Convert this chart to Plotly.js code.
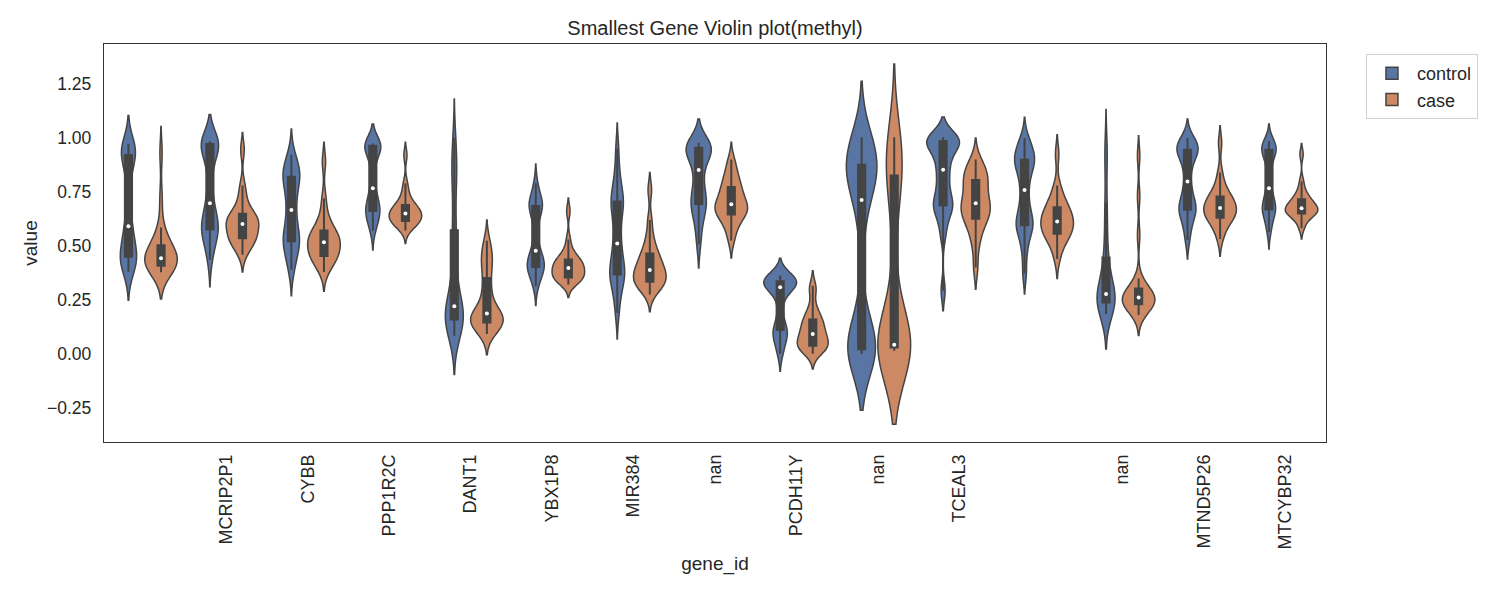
<!DOCTYPE html>
<html>
<head>
<meta charset="utf-8">
<script src="https://cdn.plot.ly/plotly-3.0.1.min.js"></script>
<style>html,body{margin:0;padding:0;background:#fff;}#chart{width:1500px;height:600px;}</style>
</head>
<body>
<div id="chart"></div>
<script>
// ---- data ----
const geneLabels = ["", "MCRIP2P1", "CYBB", "PPP1R2C", "DANT1", "YBX1P8", "MIR384", "nan",
  "PCDH11Y", "nan", "TCEAL3", "", "nan", "MTND5P26", "MTCYBP32"];

const controlValues = [
  [0.381,0.40,0.42,0.435,0.445,0.452,0.47,0.50,0.53,0.56,0.591,0.65,0.73,0.82,0.88,0.918,0.93,0.94,0.95,0.96,0.972],
  [0.435,0.49,0.53,0.555,0.57,0.579,0.59,0.61,0.635,0.665,0.698,0.76,0.84,0.90,0.94,0.972,0.975,0.978,0.98,0.982,0.985],
  [0.39,0.43,0.47,0.50,0.515,0.525,0.54,0.56,0.59,0.63,0.667,0.70,0.74,0.78,0.80,0.818,0.83,0.845,0.86,0.89,0.922],
  [0.571,0.60,0.625,0.645,0.655,0.664,0.675,0.69,0.71,0.735,0.767,0.82,0.88,0.92,0.945,0.964,0.966,0.968,0.97,0.972,0.975],
  [0.085,0.11,0.13,0.145,0.155,0.162,0.175,0.19,0.20,0.21,0.221,0.26,0.32,0.40,0.47,0.548,0.65,0.78,0.85,0.90,1.0],
  [0.314,0.35,0.375,0.39,0.398,0.404,0.415,0.43,0.445,0.46,0.478,0.53,0.59,0.64,0.665,0.684,0.69,0.70,0.71,0.74,0.79],
  [0.19,0.26,0.31,0.345,0.36,0.370,0.385,0.41,0.44,0.475,0.512,0.56,0.61,0.66,0.685,0.702,0.72,0.75,0.79,0.85,0.95],
  [0.508,0.58,0.63,0.665,0.685,0.698,0.715,0.74,0.77,0.81,0.852,0.89,0.915,0.93,0.945,0.954,0.958,0.962,0.966,0.972,0.978],
  [0.0,0.04,0.07,0.09,0.105,0.113,0.14,0.19,0.25,0.29,0.309,0.315,0.32,0.325,0.33,0.336,0.34,0.345,0.35,0.356,0.363],
  [0.0,0.005,0.01,0.015,0.02,0.023,0.04,0.08,0.20,0.50,0.713,0.76,0.80,0.83,0.85,0.872,0.89,0.91,0.94,0.97,1.003],
  [0.294,0.55,0.62,0.66,0.68,0.690,0.71,0.74,0.78,0.82,0.853,0.89,0.92,0.95,0.97,0.985,0.988,0.991,0.995,0.999,1.003],
  [0.374,0.47,0.53,0.57,0.587,0.599,0.615,0.64,0.67,0.71,0.759,0.80,0.84,0.865,0.88,0.895,0.91,0.925,0.945,0.97,1.0],
  [0.185,0.205,0.22,0.23,0.235,0.239,0.248,0.256,0.265,0.272,0.278,0.29,0.31,0.35,0.39,0.429,0.50,0.60,0.70,0.87,0.97],
  [0.528,0.58,0.62,0.645,0.66,0.671,0.685,0.70,0.725,0.76,0.799,0.85,0.89,0.915,0.93,0.944,0.952,0.96,0.97,0.985,1.0],
  [0.566,0.60,0.635,0.655,0.665,0.671,0.68,0.695,0.715,0.74,0.767,0.82,0.87,0.905,0.925,0.944,0.95,0.955,0.962,0.972,0.985]
];

const caseValues = [
  [0.378,0.39,0.40,0.403,0.406,0.409,0.42,0.43,0.435,0.44,0.443,0.455,0.465,0.475,0.49,0.498,0.52,0.55,0.586,0.72,0.93],
  [0.46,0.49,0.51,0.525,0.532,0.537,0.55,0.565,0.58,0.592,0.602,0.61,0.618,0.627,0.636,0.645,0.66,0.69,0.73,0.78,0.946],
  [0.38,0.41,0.43,0.445,0.45,0.455,0.47,0.485,0.50,0.51,0.517,0.525,0.535,0.548,0.558,0.568,0.585,0.61,0.65,0.72,0.89],
  [0.572,0.59,0.60,0.608,0.613,0.617,0.625,0.633,0.64,0.646,0.651,0.658,0.665,0.672,0.68,0.687,0.70,0.72,0.75,0.79,0.92],
  [0.093,0.11,0.125,0.135,0.142,0.147,0.155,0.165,0.172,0.18,0.188,0.20,0.22,0.26,0.30,0.339,0.39,0.42,0.45,0.48,0.524],
  [0.322,0.335,0.343,0.348,0.352,0.355,0.365,0.375,0.385,0.392,0.398,0.405,0.413,0.42,0.428,0.435,0.445,0.46,0.48,0.53,0.662],
  [0.276,0.30,0.315,0.325,0.331,0.336,0.348,0.36,0.372,0.381,0.389,0.40,0.415,0.43,0.445,0.460,0.48,0.51,0.55,0.62,0.76],
  [0.525,0.57,0.60,0.625,0.64,0.648,0.658,0.668,0.677,0.685,0.693,0.705,0.72,0.737,0.753,0.769,0.785,0.805,0.83,0.86,0.90],
  [0.001,0.015,0.025,0.032,0.036,0.039,0.05,0.062,0.073,0.083,0.093,0.105,0.118,0.132,0.145,0.157,0.17,0.19,0.22,0.29,0.316],
  [0.015,0.02,0.024,0.027,0.029,0.031,0.034,0.036,0.038,0.041,0.043,0.06,0.15,0.45,0.70,0.818,0.85,0.88,0.92,0.96,1.003],
  [0.40,0.50,0.55,0.59,0.615,0.630,0.645,0.66,0.675,0.687,0.698,0.715,0.735,0.76,0.785,0.802,0.815,0.83,0.85,0.87,0.90],
  [0.44,0.49,0.52,0.54,0.552,0.559,0.572,0.585,0.597,0.606,0.614,0.626,0.638,0.65,0.663,0.676,0.69,0.71,0.74,0.78,0.925],
  [0.18,0.20,0.212,0.222,0.227,0.231,0.238,0.245,0.251,0.257,0.262,0.268,0.275,0.283,0.29,0.298,0.32,0.35,0.55,0.73,0.917],
  [0.532,0.57,0.60,0.617,0.626,0.633,0.643,0.653,0.662,0.67,0.676,0.686,0.697,0.707,0.716,0.725,0.74,0.76,0.79,0.84,0.977],
  [0.582,0.61,0.63,0.642,0.647,0.651,0.657,0.663,0.667,0.671,0.675,0.682,0.69,0.698,0.706,0.713,0.725,0.74,0.76,0.80,0.925]
];

// KDE bandwidth of each violin, estimated from the tail lengths in the picture
const controlBandwidth = [0.066,0.062,0.06,0.045,0.09,0.045,0.06,0.055,0.04,0.13,0.047,0.048,0.081,0.044,0.04];
const caseBandwidth    = [0.0615,0.04,0.045,0.03,0.048,0.03,0.04,0.04,0.035,0.17,0.05,0.045,0.047,0.04,0.025];

// ---- styling ----
const BLUE = '#5875a4', ORANGE = '#cc8963', EDGE = '#444444';
const FONT = 'Liberation Sans, Arial, Helvetica, sans-serif';
const TXT = '#262626';

function median(arr) {
  const s = arr.slice().sort((a, b) => a - b);
  const p = (s.length - 1) * 0.5, lo = Math.floor(p), hi = Math.ceil(p);
  return s[lo] + (s[hi] - s[lo]) * (p - lo);
}

function violin(i, vals, bw, name, color) {
  return {
    type: 'violin',
    x: vals.map(() => i),
    y: vals,
    name: name,
    legendgroup: name,
    showlegend: i === 0,
    offsetgroup: name,
    scalegroup: 'g' + i,
    scalemode: 'width',
    spanmode: 'soft',
    bandwidth: bw,
    fillcolor: color,
    opacity: 1,
    line: {color: EDGE, width: 1.5},
    points: 'outliers',
    pointpos: 0,
    jitter: 0,
    marker: {opacity: 0, size: 1},
    box: {visible: true, width: 0.22, fillcolor: EDGE, line: {color: EDGE, width: 2}},
    meanline: {visible: false},
    hoverinfo: 'skip'
  };
}

const traces = [];
for (let i = 0; i < geneLabels.length; i++) {
  traces.push(violin(i, controlValues[i], controlBandwidth[i], 'control', BLUE));
  traces.push(violin(i, caseValues[i], caseBandwidth[i], 'case', ORANGE));
}
// white median dots
const idx = geneLabels.map((_, i) => i);
traces.push({
  type: 'scatter', mode: 'markers', showlegend: false, hoverinfo: 'skip',
  x: idx.map(i => i - 0.2), y: controlValues.map(median),
  marker: {color: 'white', size: 4, line: {width: 0}}
});
traces.push({
  type: 'scatter', mode: 'markers', showlegend: false, hoverinfo: 'skip',
  x: idx.map(i => i + 0.2), y: caseValues.map(median),
  marker: {color: 'white', size: 4, line: {width: 0}}
});

const layout = {
  width: 1500, height: 600,
  margin: {l: 104, r: 174, t: 44, b: 158},
  paper_bgcolor: '#ffffff', plot_bgcolor: '#ffffff',
  font: {family: FONT, size: 17, color: TXT},
  title: {text: 'Smallest Gene Violin plot(methyl)', font: {family: FONT, size: 20, color: TXT},
          xref: 'paper', x: 0.5, xanchor: 'center', yref: 'container', y: 0.953, yanchor: 'middle'},
  violinmode: 'group', violingap: 0.2, violingroupgap: 0,
  showlegend: true,
  legend: {x: 1.0327, xanchor: 'left', y: 0.975, yanchor: 'top', bgcolor: '#ffffff',
           bordercolor: '#d0d0d0', borderwidth: 1, font: {family: FONT, size: 18, color: TXT},
           traceorder: 'normal', itemwidth: 40},
  xaxis: {
    range: [-0.5, 14.5], tickmode: 'array', tickvals: idx, ticktext: geneLabels,
    tickangle: -90, ticks: '', ticklabelstandoff: 4, showgrid: false, zeroline: false,
    showline: true, mirror: true, linecolor: '#333333', linewidth: 1.25,
    tickfont: {family: FONT, size: 18, color: TXT},
    title: {text: 'gene_id', font: {family: FONT, size: 19, color: TXT}, standoff: 8}
  },
  yaxis: {
    range: [-0.4074, 1.4352], tick0: 0, dtick: 0.25, tickformat: '.2f',
    ticks: '', ticklabelstandoff: 8, showgrid: false, zeroline: false,
    showline: true, mirror: true, linecolor: '#333333', linewidth: 1.25,
    tickfont: {family: FONT, size: 17.5, color: TXT},
    title: {text: 'value', font: {family: FONT, size: 19, color: TXT}, standoff: 4}
  }
};

Plotly.newPlot('chart', traces, layout, {displayModeBar: false, staticPlot: true});
</script>
</body>
</html>
